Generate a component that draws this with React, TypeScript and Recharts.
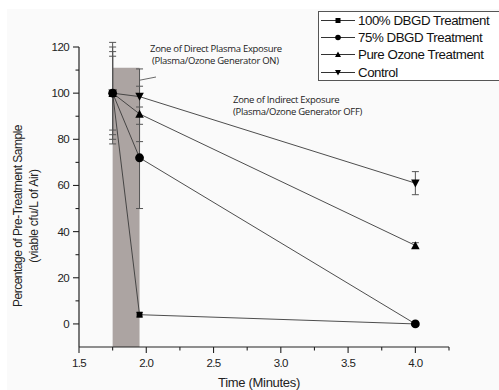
import React from 'react';
import {
  ComposedChart,
  Line,
  XAxis,
  YAxis,
  ErrorBar,
  ReferenceArea,
  Legend,
  Customized,
} from 'recharts';

// sampling times (minutes)
const times = [1.75, 1.95, 4.0];

// % of pre-treatment sample, with error
const dbgd100 = [100, 4, 0];
const dbgd100Err = [22, 1, 0.5];
const dbgd75 = [100, 72, 0];
const dbgd75Err = [20, 22, 0.5];
const ozone = [100, 91, 34];
const ozoneErr = [18, 12, 1.2];
const control = [100, 98.5, 61];
const controlErr = [16, 12, 5];

const xMajor = [1.5, 2, 2.5, 3, 3.5, 4];
const xMinor = [1.75, 2.25, 2.75, 3.25, 3.75, 4.25];
const yMajor = [0, 20, 40, 60, 80, 100, 120];
const yMinor = [10, 30, 50, 70, 90, 110];

// generator ON window
const plasmaZone = [1.75, 1.95];
const plasmaTop = 111;

const INK = '#222';
const FONT = "'Liberation Sans', Arial, sans-serif";
const NOTE_FONT = "'Open Sans', 'Noto Sans', sans-serif";

type Shape = 'square' | 'circle' | 'up' | 'down';

const toRows = (vals: number[], errs: number[]) =>
  times.map((t, i) => ({ t, v: vals[i], e: errs[i] }));

const series: { name: string; shape: Shape; data: { t: number; v: number; e: number }[] }[] = [
  { name: '100% DBGD Treatment', shape: 'square', data: toRows(dbgd100, dbgd100Err) },
  { name: '75% DBGD Treatment', shape: 'circle', data: toRows(dbgd75, dbgd75Err) },
  { name: 'Pure Ozone Treatment', shape: 'up', data: toRows(ozone, ozoneErr) },
  { name: 'Control', shape: 'down', data: toRows(control, controlErr) },
];

// draw order: circle ends up on top at t=1.75
const drawOrder = [3, 2, 0, 1];

const Marker = ({ cx, cy, shape, size }: { cx: number; cy: number; shape: Shape; size: number }) => {
  const h = size / 2;
  if (shape === 'square')
    return <rect x={cx - h} y={cy - h} width={size} height={size} fill="#000" />;
  if (shape === 'circle') return <circle cx={cx} cy={cy} r={h + 0.3} fill="#000" />;
  if (shape === 'up')
    return (
      <polygon
        points={`${cx},${cy - h - 0.5} ${cx + h + 0.5},${cy + h} ${cx - h - 0.5},${cy + h}`}
        fill="#000"
      />
    );
  return (
    <polygon
      points={`${cx - h - 0.5},${cy - h} ${cx + h + 0.5},${cy - h} ${cx},${cy + h + 0.5}`}
      fill="#000"
    />
  );
};

const XTick = (props: any) => {
  const { x, y, payload } = props;
  const major = xMajor.includes(payload.value);
  return (
    <g>
      <line x1={x} x2={x} y1={y} y2={y + (major ? 6 : 3.5)} stroke={INK} strokeWidth={1.1} />
      {major && (
        <text
          x={x}
          y={y + 20}
          textAnchor="middle"
          fontSize={11.5}
          letterSpacing={-0.6}
          fontFamily={FONT}
          fill="#222"
        >
          {payload.value.toFixed(1)}
        </text>
      )}
    </g>
  );
};

const YTick = (props: any) => {
  const { x, y, payload } = props;
  const major = yMajor.includes(payload.value);
  return (
    <g>
      <line x1={x} x2={x - (major ? 6 : 3.5)} y1={y} y2={y} stroke={INK} strokeWidth={1.1} />
      {major && (
        <text
          x={x - 10}
          y={y + 4}
          textAnchor="end"
          fontSize={11.5}
          letterSpacing={-0.6}
          fontFamily={FONT}
          fill="#222"
        >
          {payload.value}
        </text>
      )}
    </g>
  );
};

const Notes = () => (
  <g>
    <defs>
      <marker id="arrowHead" markerWidth="6" markerHeight="5" refX="5" refY="2.5" orient="auto">
        <path d="M0,0 L6,2.5 L0,5 z" fill="#333" />
      </marker>
    </defs>
    <line x1={156} y1={77} x2={128} y2={82.5} stroke="#444" strokeWidth={0.8} markerEnd="url(#arrowHead)" />
    <g fontFamily={NOTE_FONT} fontSize={9.5} fill="#222" letterSpacing={-0.3}>
      <text x={150} y={52}>Zone of Direct Plasma Exposure</text>
      <text x={152} y={64}>(Plasma/Ozone Generator ON)</text>
      <text x={233} y={103}>Zone of Indirect Exposure</text>
      <text x={233} y={115}>(Plasma/Ozone Generator OFF)</text>
    </g>
    <g fontFamily={FONT} fill="#222">
      <text x={259} y={387} textAnchor="middle" fontSize={13} letterSpacing={-0.3}>
        Time (Minutes)
      </text>
      <text
        x={22}
        y={216}
        textAnchor="middle"
        fontSize={12}
        letterSpacing={-0.5}
        transform="rotate(-90 22 216)"
      >
        Percentage of Pre-Treatment Sample
      </text>
      <text
        x={38}
        y={216}
        textAnchor="middle"
        fontSize={12}
        letterSpacing={-0.25}
        transform="rotate(-90 38 216)"
      >
        (viable cfu/L of Air)
      </text>
    </g>
  </g>
);

const LegendBox = () => (
  <div
    style={{
      border: '1px solid #555',
      background: '#fff',
      width: 200,
      height: 70,
      boxSizing: 'border-box',
      paddingTop: 0,
    }}
  >
    {series.map((s) => (
      <div key={s.name} style={{ display: 'flex', alignItems: 'center', height: 17.2 }}>
        <svg width={38} height={17} style={{ flex: 'none' }}>
          <line x1={2} x2={36} y1={8.5} y2={8.5} stroke="#333" strokeWidth={1} />
          <Marker cx={19} cy={8.5} shape={s.shape} size={5} />
        </svg>
        <span
          style={{
            fontFamily: FONT,
            fontSize: 13.3,
            letterSpacing: -0.45,
            color: '#111',
            whiteSpace: 'nowrap',
            marginLeft: 1,
          }}
        >
          {s.name}
        </span>
      </div>
    ))}
  </div>
);

export default function App() {
  return (
    <div
      style={{
        position: 'absolute',
        left: 0,
        top: 0,
        width: 499,
        height: 390,
        overflow: 'hidden',
        background: '#fff',
      }}
    >
      <div style={{ position: 'absolute', left: 7, top: 9, right: 0, bottom: 0, background: '#fafafa' }} />
      <div style={{ position: 'absolute', left: 0, top: 0 }}>
        <ComposedChart width={499} height={390} margin={{ top: 47, right: 50, bottom: 13, left: 39 }}>
          <XAxis
            type="number"
            dataKey="t"
            domain={[1.5, 4.25]}
            ticks={[...xMajor, ...xMinor].sort((a, b) => a - b)}
            interval={0}
            allowDataOverflow
            height={30}
            tickSize={0}
            tickMargin={0}
            tickLine={false}
            tick={<XTick />}
            axisLine={{ stroke: INK, strokeWidth: 1.2 }}
          />
          <YAxis
            type="number"
            domain={[-10, 120]}
            ticks={[...yMajor, ...yMinor].sort((a, b) => a - b)}
            interval={0}
            allowDataOverflow
            width={40}
            tickSize={0}
            tickMargin={0}
            tickLine={false}
            tick={<YTick />}
            axisLine={{ stroke: INK, strokeWidth: 1.2 }}
          />
          <ReferenceArea
            x1={plasmaZone[0]}
            x2={plasmaZone[1]}
            y1={-10}
            y2={plasmaTop}
            fill="#aca4a2"
            fillOpacity={1}
            stroke="none"
          />
          {drawOrder.map((i) => {
            const s = series[i];
            return (
              <Line
                key={s.name}
                name={s.name}
                data={s.data}
                dataKey="v"
                type="linear"
                stroke="#3a3a3a"
                strokeWidth={0.9}
                isAnimationActive={false}
                dot={(p: any) => (
                  <Marker
                    key={`${s.name}-${p.index}`}
                    cx={p.cx}
                    cy={p.cy}
                    shape={s.shape}
                    size={s.shape === 'circle' ? 8.2 : s.shape === 'square' ? 5.8 : 7.5}
                  />
                )}
                activeDot={false}
              >
                <ErrorBar
                  dataKey="e"
                  width={3.5}
                  stroke="#555"
                  strokeWidth={1}
                  direction="y"
                  isAnimationActive={false}
                />
              </Line>
            );
          })}
          <Customized component={<Notes />} />
          <Legend
            layout="vertical"
            align="center"
            verticalAlign="middle"
            content={<LegendBox />}
            wrapperStyle={{ top: 11, left: 318, width: 200 }}
          />
        </ComposedChart>
      </div>
    </div>
  );
}
